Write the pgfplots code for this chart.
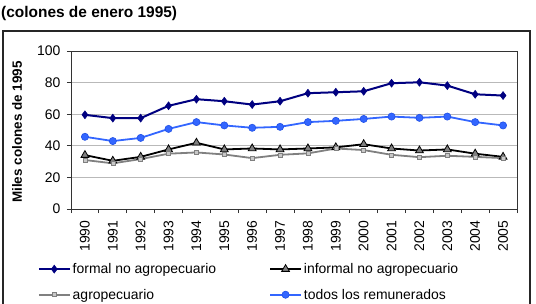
\documentclass[border=0pt]{standalone}
\usepackage{pgfplots}
\pgfplotsset{compat=1.18}
\usepackage{fontspec}
\setmainfont{Liberation Sans}
\definecolor{cformal}{HTML}{000080}
\definecolor{ctodos}{HTML}{3366FF}
\definecolor{ctodosd}{HTML}{1F4FE6}
\definecolor{cagro}{HTML}{808080}
\definecolor{cagrof}{HTML}{C8C8C8}
\definecolor{cinf}{HTML}{808080}
\definecolor{cframe}{HTML}{262626}
\begin{document}
\begin{tikzpicture}
\useasboundingbox (0bp,0bp) rectangle (536bp,304bp);
\node[anchor=base west, font=\bfseries\fontsize{15.5}{18}\selectfont, inner sep=0] at (1bp,286bp) {(colones de enero 1995)};
\begin{axis}[
  at={(3bp,-10bp)}, anchor=south west,
  scale only axis, width=527bp, height=283bp,
  xmin=0, xmax=1, ymin=0, ymax=1,
  xtick=\empty, ytick=\empty,
  axis line style={cframe, line width=1.5bp},
]
\addplot[draw=none, forget plot] coordinates {(0.5,0.5)};
\end{axis}
\begin{axis}[
  at={(71bp,95bp)}, anchor=south west,
  scale only axis, width=446bp, height=158bp,
  xmin=-0.5, xmax=15.5, ymin=0, ymax=100,
  xtick={0,...,15},
  xticklabels={1990,1991,1992,1993,1994,1995,1996,1997,1998,1999,2000,2001,2002,2003,2004,2005},
  minor xtick={-0.5,0.5,...,15.5},
  ytick={0,20,...,100},
  tick align=outside, xtick pos=bottom, ytick pos=left,
  major tick length=4bp, minor tick length=4bp,
  major x tick style={draw=none},
  tick style={black!80, line width=0.8bp},
  axis line style={black!80, line width=0.9bp},
  ymajorgrids, grid style={gray!55, line width=0.9bp},
  /pgf/number format/assume math mode=true,
  ticklabel style={font=\fontsize{14}{16}\selectfont},
  xticklabel style={yshift=-4bp, rotate=90, anchor=east},
  yticklabel style={xshift=-3bp},
  ylabel={Miles colones de 1995},
  every axis y label/.style={at={(axis description cs:-0.121,0.487)}, rotate=90, anchor=center, font=\bfseries\fontsize{13.5}{16}\selectfont},
  legend columns=2,
  legend cell align=left,
  legend style={draw=none, fill=none, at={(axis description cs:-0.075,-0.33)}, anchor=north west,
    font=\fontsize{14}{16}\selectfont, inner sep=0pt, row sep=10bp,
    /tikz/every even column/.append style={column sep=51bp}},
  legend image code/.code={\draw[mark repeat=2,mark phase=2] plot coordinates {(0bp,0bp) (15.5bp,0bp) (31bp,0bp)};},
]
\addplot[cformal, line width=2bp, mark=diamond*, mark size=4bp, mark options={fill=cformal, draw=cformal, line width=0.5bp}]
  coordinates {(0,59.6)(1,57.5)(2,57.5)(3,65.3)(4,69.5)(5,68.2)(6,66.1)(7,68.2)(8,73.3)(9,73.9)(10,74.5)(11,79.6)(12,80.2)(13,78.1)(14,72.6)(15,71.8)};
\addlegendentry{formal no agropecuario}
\addplot[black, line width=1.8bp, mark=triangle*, mark size=4.5bp, mark options={fill=cinf, draw=black, line width=0.8bp}]
  coordinates {(0,34.1)(1,30.5)(2,33.0)(3,37.7)(4,41.9)(5,37.7)(6,38.3)(7,37.7)(8,38.3)(9,39.0)(10,41.0)(11,38.3)(12,37.0)(13,37.7)(14,35.0)(15,33.0)};
\addlegendentry{informal no agropecuario}
\addplot[cagro, line width=1.8bp, mark=square*, mark size=2bp, mark options={fill=cagrof, draw=cagro, line width=0.6bp}]
  coordinates {(0,31.0)(1,28.9)(2,31.6)(3,35.0)(4,35.8)(5,34.5)(6,32.2)(7,34.3)(8,35.2)(9,38.3)(10,37.3)(11,34.3)(12,32.8)(13,33.7)(14,33.0)(15,32.2)};
\addlegendentry{agropecuario}
\addplot[ctodos, line width=1.8bp, mark=*, mark size=3.6bp, mark options={fill=ctodos, draw=ctodosd, line width=0.6bp}]
  coordinates {(0,45.7)(1,43.0)(2,45.0)(3,50.7)(4,55.0)(5,52.9)(6,51.4)(7,52.0)(8,55.0)(9,55.8)(10,57.0)(11,58.5)(12,57.7)(13,58.5)(14,55.0)(15,52.9)};
\addlegendentry{todos los remunerados}
\end{axis}
\end{tikzpicture}
\end{document}
